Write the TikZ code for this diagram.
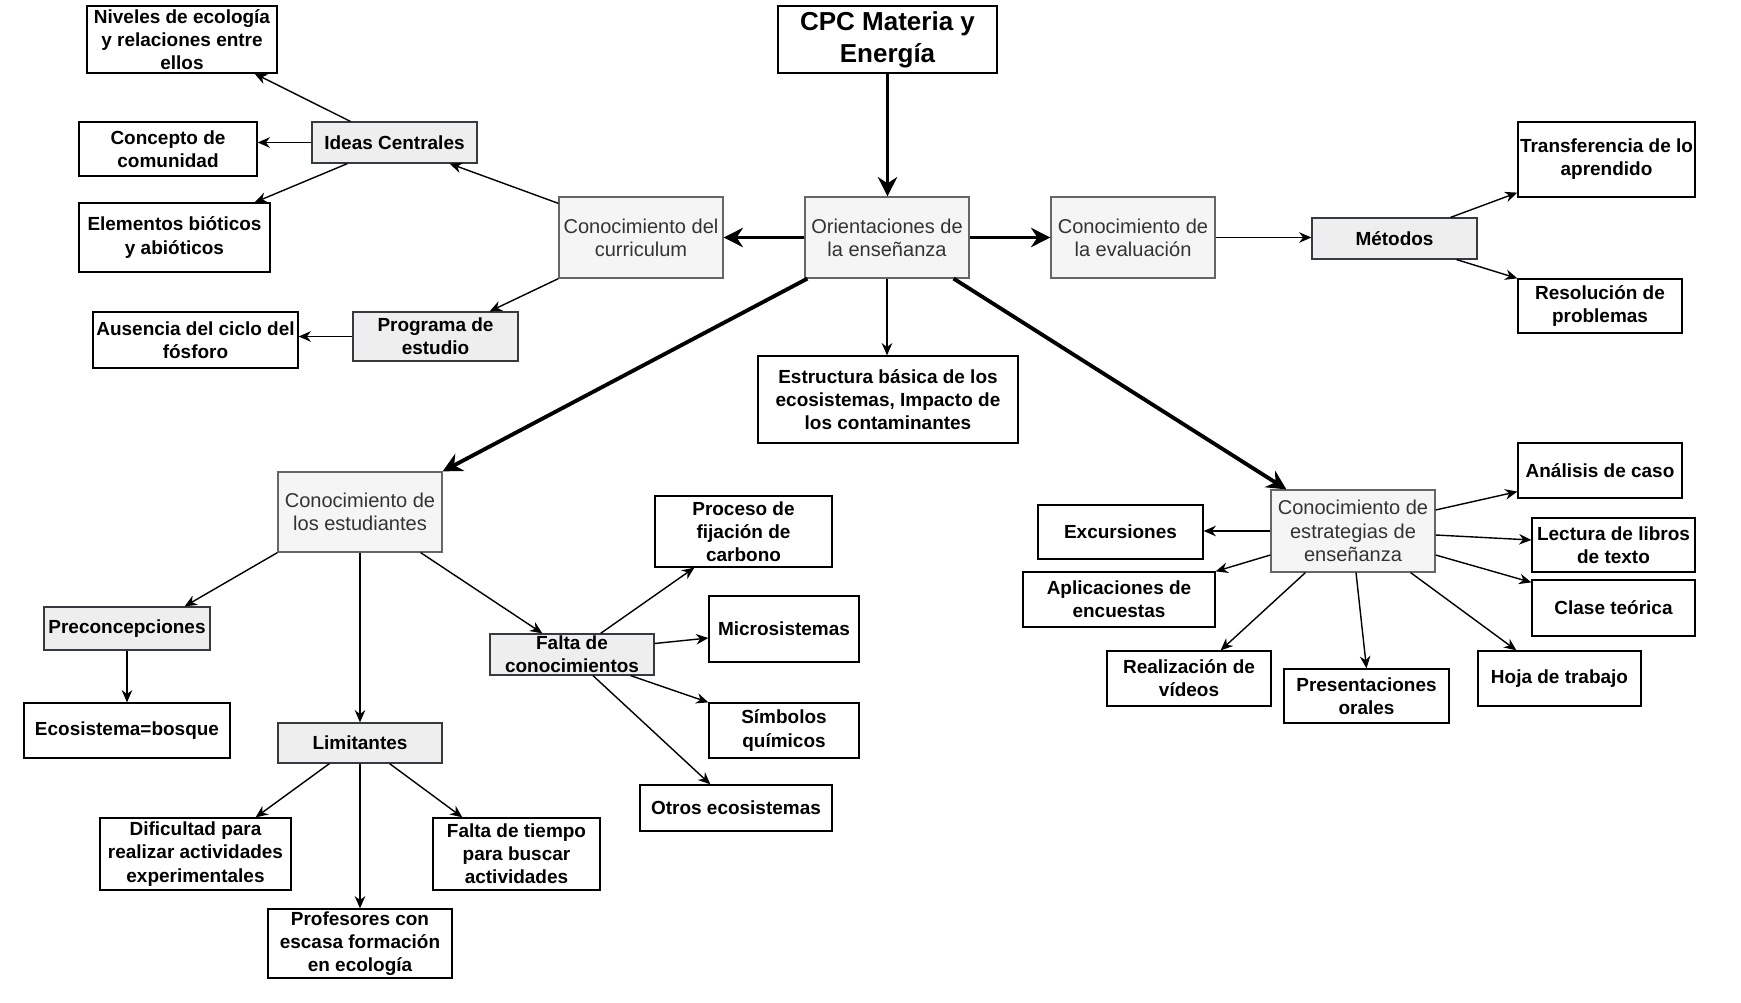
\documentclass[tikz,border=0pt]{standalone}
\usepackage{fontspec}
\setmainfont{Liberation Sans}
\usetikzlibrary{arrows.meta,calc}
\definecolor{gfill}{HTML}{F5F5F5}
\definecolor{gline}{HTML}{666666}
\definecolor{gtext}{HTML}{333333}
\definecolor{sfill}{HTML}{EEEEEE}
\definecolor{sline}{HTML}{36393D}
\begin{document}
\begin{tikzpicture}[x=0.02cm,y=-0.02cm,
 sz/.style 2 args={minimum width=#1*0.02cm, minimum height=#2*0.02cm},
 wbox/.style={draw=black, line width=0.7pt, fill=white, align=center, inner sep=0pt, font=\fontsize{10.8}{13.2}\selectfont\bfseries},
 sbox/.style={wbox, draw=sline, fill=sfill},
 cbox/.style={draw=gline, line width=0.7pt, fill=gfill, text=gtext, align=center, inner sep=0pt, font=\fontsize{11.4}{13.2}\selectfont},
 bigarrow/.style={line width=2.2pt, -{Stealth[length=11pt,width=11pt]}},
 thinarrow/.style={line width=0.8pt, -{Stealth[length=7pt,width=6pt]}}]
\useasboundingbox[fill=white] (0,0) rectangle (1741,1003);

% nodes
\node[wbox, sz={190}{67}] (niv) at (182,39.5) {Niveles de ecología\\y relaciones entre\\ellos};
\node[wbox, sz={178}{54}] (con) at (168,149) {Concepto de\\comunidad};
\node[wbox, sz={191}{69}] (ele) at (174.5,237.5) {Elementos bióticos\\y abióticos};
\node[wbox, sz={205}{56}] (aus) at (195.5,340) {Ausencia del ciclo del\\fósforo};
\node[sbox, sz={165}{41}] (ide) at (394.5,142.5) {Ideas Centrales};
\node[sbox, sz={165}{49}] (pro) at (435.5,336.5) {Programa de\\estudio};
\node[cbox, sz={164}{81}] (cur) at (641,237.5) {Conocimiento del\\curriculum};
\node[wbox, sz={219}{67}, font=\fontsize{14.8}{18.3}\selectfont\bfseries] (cpc) at (887.5,39.5) {CPC Materia y\\Energía};
\node[cbox, sz={164}{81}] (ori) at (887,237.5) {Orientaciones de\\la enseñanza};
\node[cbox, sz={164}{81}] (eva) at (1133,237.5) {Conocimiento de\\la evaluación};
\node[sbox, sz={165}{41}] (met) at (1394.5,238.5) {Métodos};
\node[wbox, sz={177}{75}] (tra) at (1606.5,159.5) {Transferencia de lo\\aprendido};
\node[wbox, sz={164}{54}] (res) at (1600,306) {Resolución de\\problemas};
\node[wbox, sz={260}{87}] (estc) at (888,399.5) {Estructura básica de los\\ecosistemas, Impacto de\\los contaminantes};
\node[cbox, sz={164}{80}] (est) at (360,512) {Conocimiento de\\los estudiantes};
\node[sbox, sz={166}{43}] (pre) at (127,628.5) {Preconcepciones};
\node[wbox, sz={206}{55}] (eco) at (127,730.5) {Ecosistema=bosque};
\node[sbox, sz={164}{40}] (lim) at (360,743) {Limitantes};
\node[wbox, sz={191}{72}] (dif) at (195.5,854) {Dificultad para\\realizar actividades\\experimentales};
\node[wbox, sz={184}{69}] (prf) at (360,943.5) {Profesores con\\escasa formación\\en ecología};
\node[wbox, sz={167}{72}] (tie) at (516.5,854) {Falta de tiempo\\para buscar\\actividades};
\node[sbox, sz={164}{41}] (fal) at (572,654.5) {Falta de\\conocimientos};
\node[wbox, sz={177}{71}] (prc) at (743.5,531.5) {Proceso de\\fijación de\\carbono};
\node[wbox, sz={150}{66}] (mic) at (784,629) {Microsistemas};
\node[wbox, sz={150}{55}] (sim) at (784,730.5) {Símbolos\\químicos};
\node[wbox, sz={192}{46}] (otr) at (736,808) {Otros ecosistemas};
\node[cbox, sz={164}{82}] (str) at (1353,531) {Conocimiento de\\estrategias de\\enseñanza};
\node[wbox, sz={165}{54}] (exc) at (1120.5,532) {Excursiones};
\node[wbox, sz={192}{55}] (apl) at (1119,599.5) {Aplicaciones de\\encuestas};
\node[wbox, sz={164}{55}] (rea) at (1189,678.5) {Realización de\\vídeos};
\node[wbox, sz={165}{54}] (prs) at (1366.5,696) {Presentaciones\\orales};
\node[wbox, sz={163}{55}] (hoj) at (1559.5,678.5) {Hoja de trabajo};
\node[wbox, sz={164}{55}] (ana) at (1600,470.5) {Análisis de caso};
\node[wbox, sz={163}{54}] (lec) at (1613.5,545) {Lectura de libros\\de texto};
\node[wbox, sz={163}{56}] (cla) at (1613.5,608) {Clase teórica};

% thick connectors
\draw[bigarrow] (cpc.south) -- (cpc.south |- ori.north);
\draw[bigarrow] (ori.west) -- (cur.east);
\draw[bigarrow] (ori.east) -- (eva.west);
\draw[bigarrow] ($(ori.south west)+(3,0)$) -- (est.north east);
\draw[bigarrow] ($(ori.south east)+(-16,0)$) -- ($(str.north west)+(16,0)$);

% thin connectors
\draw[thinarrow] (ori.south) -- (ori.south |- estc.north);
\draw[thinarrow] ($(cur.north west)+(0,7)$) -- ($(ide.south east)+(-28,0)$);
\draw[thinarrow] (cur.south west) -- ($(pro.north east)+(-29,0)$);
\draw[thinarrow] ($(ide.north west)+(39,0)$) -- ($(niv.south east)+(-23,0)$);
\draw[thinarrow] (ide.west) -- (ide.west -| con.east);
\draw[thinarrow] ($(ide.south west)+(36,0)$) -- ($(ele.north east)+(-16,0)$);
\draw[thinarrow] (pro.west) -- (pro.west -| aus.east);
\draw[thinarrow] (eva.east) -- (eva.east -| met.west);
\draw[thinarrow] ($(met.north east)+(-27,0)$) -- ($(tra.south west)+(0,-5)$);
\draw[thinarrow] ($(met.south east)+(-21,0)$) -- (res.north west);
\draw[thinarrow] (est.south west) -- ($(pre.north east)+(-26,0)$);
\draw[thinarrow] (est.south) -- (lim.north);
\draw[thinarrow] ($(est.south east)+(-22,0)$) -- ($(fal.north west)+(53,0)$);
\draw[thinarrow] (pre.south) -- (eco.north);
\draw[thinarrow] ($(lim.south west)+(52,0)$) -- ($(dif.north east)+(-36,0)$);
\draw[thinarrow] (lim.south) -- (prf.north);
\draw[thinarrow] ($(lim.south east)+(-53,0)$) -- ($(tie.north west)+(30,0)$);
\draw[thinarrow] ($(fal.north east)+(-54,0)$) -- ($(prc.south west)+(40,0)$);
\draw[thinarrow] ($(fal.east)+(0,-11)$) -- ($(mic.west)+(0,9)$);
\draw[thinarrow] ($(fal.south east)+(-24,0)$) -- (sim.north west);
\draw[thinarrow] ($(fal.south)+(21,0)$) -- ($(otr.north west)+(71,0)$);
\draw[thinarrow] (str.west) -- (str.west -| exc.east);
\draw[thinarrow] ($(str.west)+(0,24)$) -- (apl.north east);
\draw[thinarrow] ($(str.south west)+(35,0)$) -- ($(rea.north east)+(-51,0)$);
\draw[thinarrow] ($(str.south)+(3,0)$) -- (prs.north);
\draw[thinarrow] ($(str.south east)+(-25,0)$) -- ($(hoj.north west)+(39,0)$);
\draw[thinarrow] ($(str.east)+(0,-21)$) -- ($(ana.south west)+(0,-7)$);
\draw[thinarrow] ($(str.east)+(0,4)$) -- ($(lec.west)+(0,-5)$);
\draw[thinarrow] ($(str.east)+(0,24)$) -- ($(cla.north west)+(0,3)$);
\end{tikzpicture}
\end{document}
